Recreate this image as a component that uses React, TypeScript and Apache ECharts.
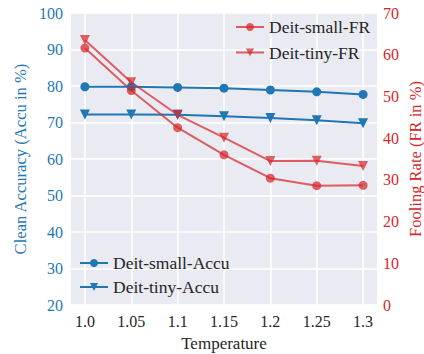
import React, { useEffect, useRef } from "react";
import * as echarts from "echarts";

const temperatures = [1.0, 1.05, 1.1, 1.15, 1.2, 1.25, 1.3];
const tempLabels = ["1.0", "1.05", "1.1", "1.15", "1.2", "1.25", "1.3"];
const smallAccu = [79.8, 79.8, 79.6, 79.4, 78.9, 78.4, 77.7];
const tinyAccu = [72.2, 72.2, 72.1, 71.7, 71.2, 70.6, 69.8];
const smallFR = [61.6, 51.4, 42.5, 36.0, 30.4, 28.6, 28.7];
const tinyFR = [63.5, 53.4, 45.6, 40.1, 34.5, 34.6, 33.3];

const BLUE = "#1f77b4";
const RED = "#d62728";
const RED_A = "rgba(214,39,40,0.72)";
const FONT = "'Liberation Serif', 'Times New Roman', 'DejaVu Serif', serif";

export default function App() {
  const ref = useRef<HTMLDivElement>(null);
  useEffect(() => {
    const chart = echarts.init(ref.current!, null, { renderer: "svg" });
    const pair = (vals: number[]) => temperatures.map((t, i) => [t, vals[i]]);
    chart.setOption({
      animation: false,
      textStyle: { fontFamily: FONT },
      grid: {
        left: 71,
        right: 47,
        top: 13,
        bottom: 49,
        show: true,
        backgroundColor: "#eaeaf2",
        borderWidth: 0,
        containLabel: false,
        outerBoundsMode: "none",
      },
      xAxis: {
        type: "value",
        min: 0.985,
        max: 1.315,
        name: "Temperature",
        nameLocation: "middle",
        nameGap: 30,
        nameMoveOverlap: false,
        nameTextStyle: { fontFamily: FONT, fontSize: 17, color: "#262626" },
        axisLine: { show: false },
        axisTick: { show: false, customValues: temperatures },
        axisLabel: {
          customValues: temperatures,
          fontFamily: FONT,
          fontSize: 16,
          color: "#262626",
          margin: 8,
          formatter: (v: number) => {
            const i = temperatures.findIndex((t) => Math.abs(t - v) < 1e-6);
            return i >= 0 ? tempLabels[i] : "";
          },
        },
        splitLine: { show: true, lineStyle: { color: "#ffffff", width: 1.5 } },
      },
      yAxis: [
        {
          type: "value",
          min: 20,
          max: 100,
          interval: 10,
          name: "Clean Accuracy (Accu in %)",
          nameLocation: "middle",
          nameGap: 42,
          nameMoveOverlap: false,
          nameTextStyle: { fontFamily: FONT, fontSize: 16.6, color: BLUE },
          axisLine: { show: false },
          axisTick: { show: false },
          axisLabel: { fontFamily: FONT, fontSize: 16, color: BLUE, margin: 8 },
          splitLine: { show: true, lineStyle: { color: "#ffffff", width: 1.5 } },
        },
        {
          type: "value",
          min: 0,
          max: 70,
          interval: 10,
          name: "Fooling Rate (FR in %)",
          nameLocation: "middle",
          nameGap: 30,
          nameRotate: 90,
          nameMoveOverlap: false,
          nameTextStyle: { fontFamily: FONT, fontSize: 16.5, color: RED },
          axisLine: { show: false },
          axisTick: { show: false },
          axisLabel: { fontFamily: FONT, fontSize: 16, color: RED, margin: 6 },
          splitLine: { show: false },
        },
      ],
      legend: [
        {
          data: ["Deit-small-FR", "Deit-tiny-FR"],
          orient: "vertical",
          left: 230,
          top: 13,
          itemWidth: 28,
          itemHeight: 10,
          itemGap: 7.5,
          textStyle: { fontFamily: FONT, fontSize: 17.5, color: "#262626" },
        },
        {
          data: ["Deit-small-Accu", "Deit-tiny-Accu"],
          orient: "vertical",
          left: 74,
          top: 249,
          itemWidth: 28,
          itemHeight: 10,
          itemGap: 6,
          textStyle: { fontFamily: FONT, fontSize: 17.5, color: "#262626" },
        },
      ],
      series: [
        {
          name: "Deit-small-Accu",
          type: "line",
          yAxisIndex: 0,
          data: pair(smallAccu),
          symbol: "circle",
          symbolSize: 9,
          lineStyle: { color: BLUE, width: 2 },
          itemStyle: { color: BLUE },
        },
        {
          name: "Deit-tiny-Accu",
          type: "line",
          yAxisIndex: 0,
          data: pair(tinyAccu),
          symbol: "triangle",
          symbolRotate: 180,
          symbolSize: 10,
          lineStyle: { color: BLUE, width: 2 },
          itemStyle: { color: BLUE },
        },
        {
          name: "Deit-small-FR",
          type: "line",
          yAxisIndex: 1,
          data: pair(smallFR),
          symbol: "circle",
          symbolSize: 9,
          lineStyle: { color: RED_A, width: 2 },
          itemStyle: { color: RED_A },
        },
        {
          name: "Deit-tiny-FR",
          type: "line",
          yAxisIndex: 1,
          data: pair(tinyFR),
          symbol: "triangle",
          symbolRotate: 180,
          symbolSize: 10,
          lineStyle: { color: RED_A, width: 2 },
          itemStyle: { color: RED_A },
        },
      ],
    });
    return () => chart.dispose();
  }, []);
  return (
    <div
      ref={ref}
      style={{ position: "fixed", left: 0, top: 0, width: 424, height: 354, background: "#ffffff" }}
    />
  );
}
